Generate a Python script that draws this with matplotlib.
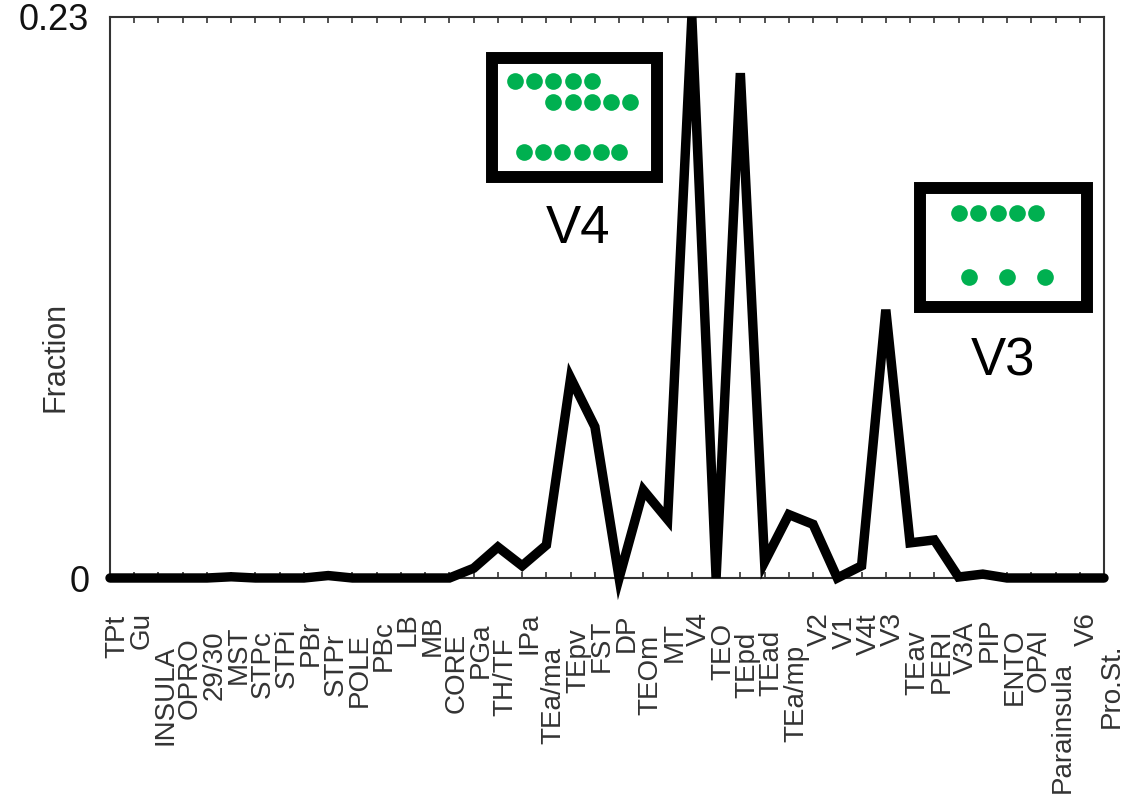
import matplotlib
matplotlib.use("Agg")
import matplotlib.pyplot as plt
from matplotlib.patches import Rectangle
from matplotlib.transforms import blended_transform_factory

plt.rcParams['font.family'] = ['Liberation Sans', 'DejaVu Sans']

areas = ["TPt", "Gu", "INSULA", "OPRO", "29/30", "MST", "STPc", "STPi", "PBr", "STPr",
         "POLE", "PBc", "LB", "MB", "CORE", "PGa", "TH/TF", "IPa", "TEa/ma", "TEpv",
         "FST", "DP", "TEOm", "MT", "V4", "TEO", "TEpd", "TEad", "TEa/mp", "V2",
         "V1", "V4t", "V3", "TEav", "PERI", "V3A", "PIP", "ENTO", "OPAI", "Parainsula",
         "V6", "Pro.St."]

fraction = [0, 0, 0, 0, 0, 0.0005, 0, 0, 0, 0.001,
            0, 0, 0, 0, 0, 0.004, 0.0127, 0.005, 0.0135, 0.082,
            0.062, 0, 0.036, 0.024, 0.23, 0, 0.207, 0.0066, 0.026, 0.022,
            0, 0.005, 0.11, 0.0144, 0.0156, 0.0004, 0.0016, 0, 0, 0,
            0, 0]

# top of each rotated label, pixels from top of figure
label_top = [615, 612, 645, 637, 630, 625, 630, 628, 620, 633,
             633, 620, 612, 615, 633, 622, 637, 613, 647, 628,
             620, 613, 635, 622, 612, 623, 632, 630, 645, 612,
             615, 613, 612, 630, 628, 622, 617, 628, 628, 662,
             612, 643]

W, H = 1124, 802
fig = plt.figure(figsize=(W / 100, H / 100), dpi=100)
ax = fig.add_axes([110 / W, 1 - 578 / H, (1104 - 110) / W, (578 - 17) / H])

x = list(range(len(areas)))
ax.plot(x, fraction, color='black', lw=6.8, solid_joinstyle='miter',
        solid_capstyle='round', clip_on=False, zorder=3)

ax.set_xlim(0, len(areas) - 1)
ax.set_ylim(0, 0.23)
ax.set_xticks(x)
ax.set_xticklabels([])
ax.tick_params(axis='x', direction='in', top=True, bottom=True, length=4,
               width=1.2, color='#333333')
ax.set_yticks([0, 0.23])
ax.set_yticklabels(["0", "0.23"], fontsize=26, color='#111111')
ax.tick_params(axis='y', length=0, pad=15)
for s in ax.spines.values():
    s.set_color('#333333')
    s.set_linewidth(1.5)

tr = blended_transform_factory(ax.transData, fig.transFigure)
for i, (name, top) in enumerate(zip(areas, label_top)):
    ax.text(i + 0.3, 1 - top / H, name, rotation=90, ha='center', va='top',
            fontsize=20, color='#333333', transform=tr, clip_on=False)

fig.text(55 / W, 1 - 357 / H, "Fraction", rotation=90, ha='center', va='center',
         fontsize=22, color='#333333')


def px(xp, yp):
    return xp / W, 1 - yp / H


# schematic boxes
def box(x0, y0, x1, y1):
    bx, by = px(x0, y1)
    fig.add_artist(Rectangle((bx, by), (x1 - x0) / W, (y1 - y0) / H,
                             transform=fig.transFigure, fill=False,
                             edgecolor='black', lw=8.6, joinstyle='miter'))


def dots(xs, yp):
    fx = [xv / W for xv in xs]
    fy = [1 - yp / H] * len(xs)
    fig.add_artist(plt.Line2D(fx, fy, transform=fig.transFigure, ls='none',
                              marker='o', markersize=12, color='#00b050',
                              markeredgewidth=0))


box(492, 58, 657, 177)
dots([515, 534, 553, 573, 592], 81)
dots([553, 573, 592, 611, 630], 102)
dots([524, 543, 562, 582, 601, 619], 152)
fig.text(*px(578, 229), "V4", ha='center', va='center', fontsize=38, color='black')

box(920, 188, 1087, 307)
dots([959, 978, 998, 1017, 1036], 213)
dots([969, 1007, 1045], 277)
fig.text(*px(1003, 361), "V3", ha='center', va='center', fontsize=38, color='black')

fig.savefig("out.png", dpi=100)
